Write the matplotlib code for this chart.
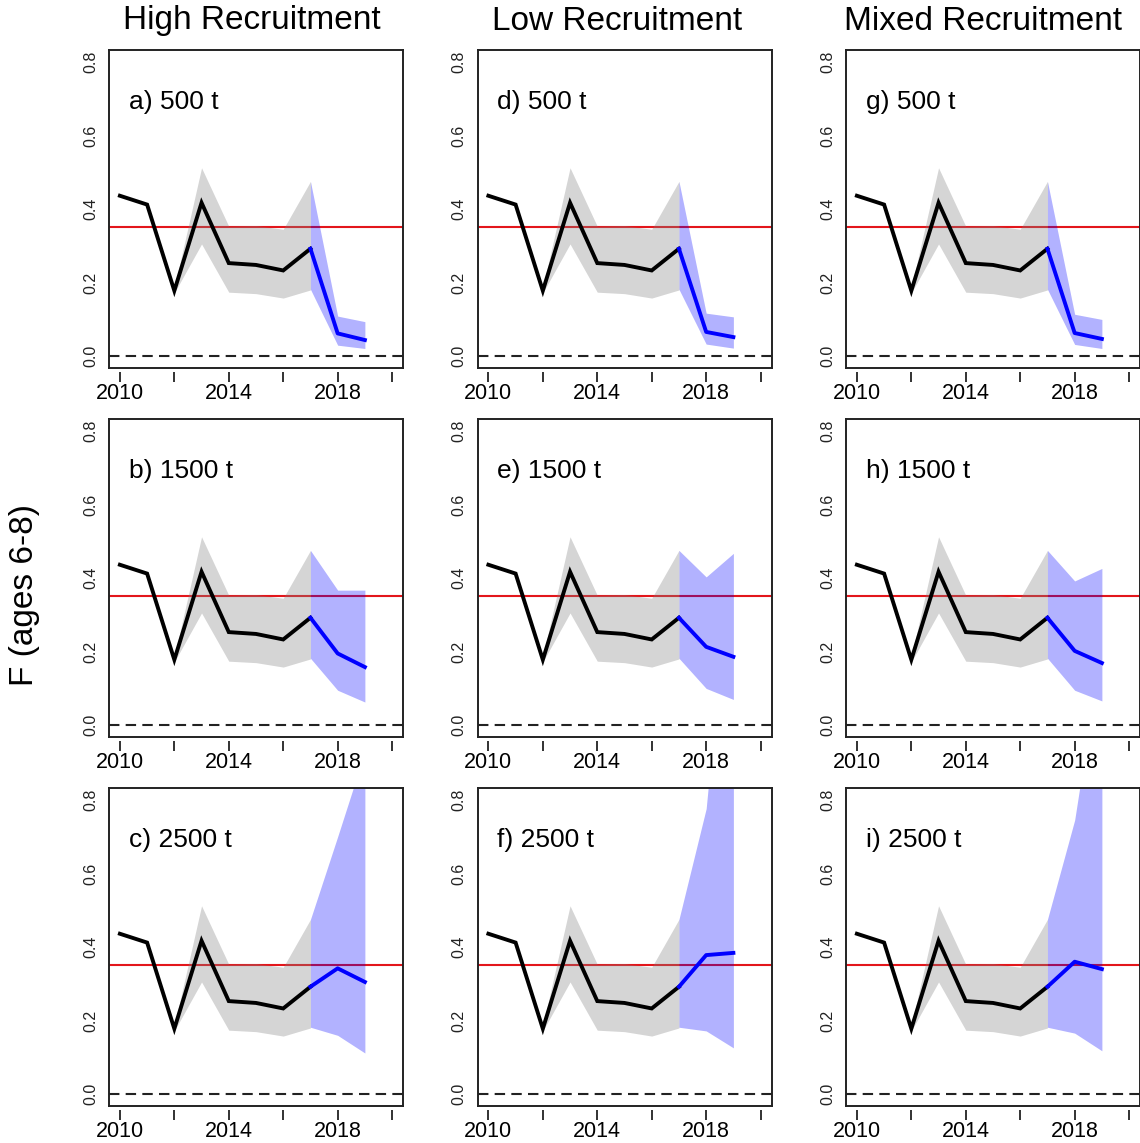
import matplotlib
matplotlib.use("Agg")
import matplotlib.pyplot as plt
import numpy as np

plt.rcParams["font.family"] = ["Liberation Sans", "DejaVu Sans"]

# Historical F (ages 6-8), same in every panel
hist_years = [2010, 2011, 2012, 2013, 2014, 2015, 2016, 2017]
hist_f = [0.436, 0.412, 0.178, 0.417, 0.253, 0.248, 0.233, 0.292]
band_years = [2012, 2013, 2014, 2015, 2016, 2017]
band_lo = [0.172, 0.305, 0.174, 0.170, 0.158, 0.180]
band_hi = [0.186, 0.512, 0.353, 0.355, 0.345, 0.475]

# Projections start from the 2017 estimate
proj_years = [2017, 2018, 2019]
start_mean, start_lo, start_hi = 0.292, 0.182, 0.475

scenarios = ["High Recruitment", "Low Recruitment", "Mixed Recruitment"]
catches = ["500 t", "1500 t", "2500 t"]
letters = [["a", "d", "g"], ["b", "e", "h"], ["c", "f", "i"]]

# [catch row][scenario column] -> values for 2018, 2019
proj_mean = [
    [[0.062, 0.044], [0.066, 0.052], [0.063, 0.047]],
    [[0.195, 0.158], [0.213, 0.186], [0.202, 0.169]],
    [[0.342, 0.305], [0.378, 0.384], [0.360, 0.340]],
]
proj_lo = [
    [[0.030, 0.021], [0.033, 0.022], [0.032, 0.021]],
    [[0.095, 0.063], [0.100, 0.070], [0.095, 0.066]],
    [[0.160, 0.112], [0.172, 0.126], [0.166, 0.118]],
]
proj_hi = [
    [[0.109, 0.094], [0.117, 0.107], [0.114, 0.100]],
    [[0.367, 0.367], [0.403, 0.467], [0.392, 0.426]],
    [[0.700, 0.930], [0.776, 1.550], [0.745, 1.220]],
]

f_ref = 0.35
x_ticks = [2010, 2012, 2014, 2016, 2018, 2020]
x_labels = ["2010", "", "2014", "", "2018", ""]
y_ticks = [0.0, 0.2, 0.4, 0.6, 0.8]

W, H = 1140, 1143
fig = plt.figure(figsize=(W / 100, H / 100), dpi=100)

col_left = [109, 477.5, 846]
row_top = [50, 419, 788]
ax_w, ax_h = 294, 318

for r in range(3):
    for c in range(3):
        ax = fig.add_axes([col_left[c] / W, 1 - (row_top[r] + ax_h) / H,
                           ax_w / W, ax_h / H])
        ax.axhline(f_ref, color="#e3161b", lw=1.5, zorder=1)
        ax.axhline(0, color="#222222", lw=1.5, ls=(0, (5, 3)), zorder=1)
        ax.fill_between(band_years, band_lo, band_hi, color="#808080",
                        alpha=0.33, lw=0, zorder=2)
        pm = [start_mean] + proj_mean[r][c]
        pl = [start_lo] + proj_lo[r][c]
        ph = [start_hi] + proj_hi[r][c]
        ax.fill_between(proj_years, pl, ph, color="blue", alpha=0.3, lw=0,
                        zorder=2)
        ax.plot(hist_years, hist_f, color="black", lw=2.8, zorder=3,
                solid_joinstyle="miter")
        ax.plot(proj_years, pm, color="blue", lw=2.8, zorder=3)

        ax.set_xlim(2009.6, 2020.4)
        ax.set_ylim(-0.032, 0.832)
        for s in ax.spines.values():
            s.set_linewidth(1.4)
            s.set_color("#222222")

        ax.set_yticks(y_ticks)
        ax.set_yticklabels([f"{v:.1f}" for v in y_ticks], rotation=90,
                           va="center", fontsize=11.5, color="#222222")
        ax.tick_params(axis="y", length=0, pad=8)
        ax.set_xticks([])

        sec = ax.secondary_xaxis(-0.012)
        sec.spines["bottom"].set_visible(False)
        sec.set_xticks(x_ticks)
        sec.set_xticklabels(x_labels, fontsize=15.5)
        sec.tick_params(axis="x", length=7, width=1.3, pad=1,
                        color="#222222")

        ax.text(0.068, 0.838, f"{letters[r][c]}) {catches[r]}",
                transform=ax.transAxes, fontsize=19, va="center", ha="left")

title_x = [251.5, 617, 983]
for c in range(3):
    fig.text(title_x[c] / W, 1 - 21 / H, scenarios[c], fontsize=24,
             ha="center", va="center")

fig.text(25 / W, 1 - 595 / H, "F (ages 6-8)", fontsize=24, rotation=90,
         ha="center", va="center")

fig.savefig("out.png", dpi=100)
